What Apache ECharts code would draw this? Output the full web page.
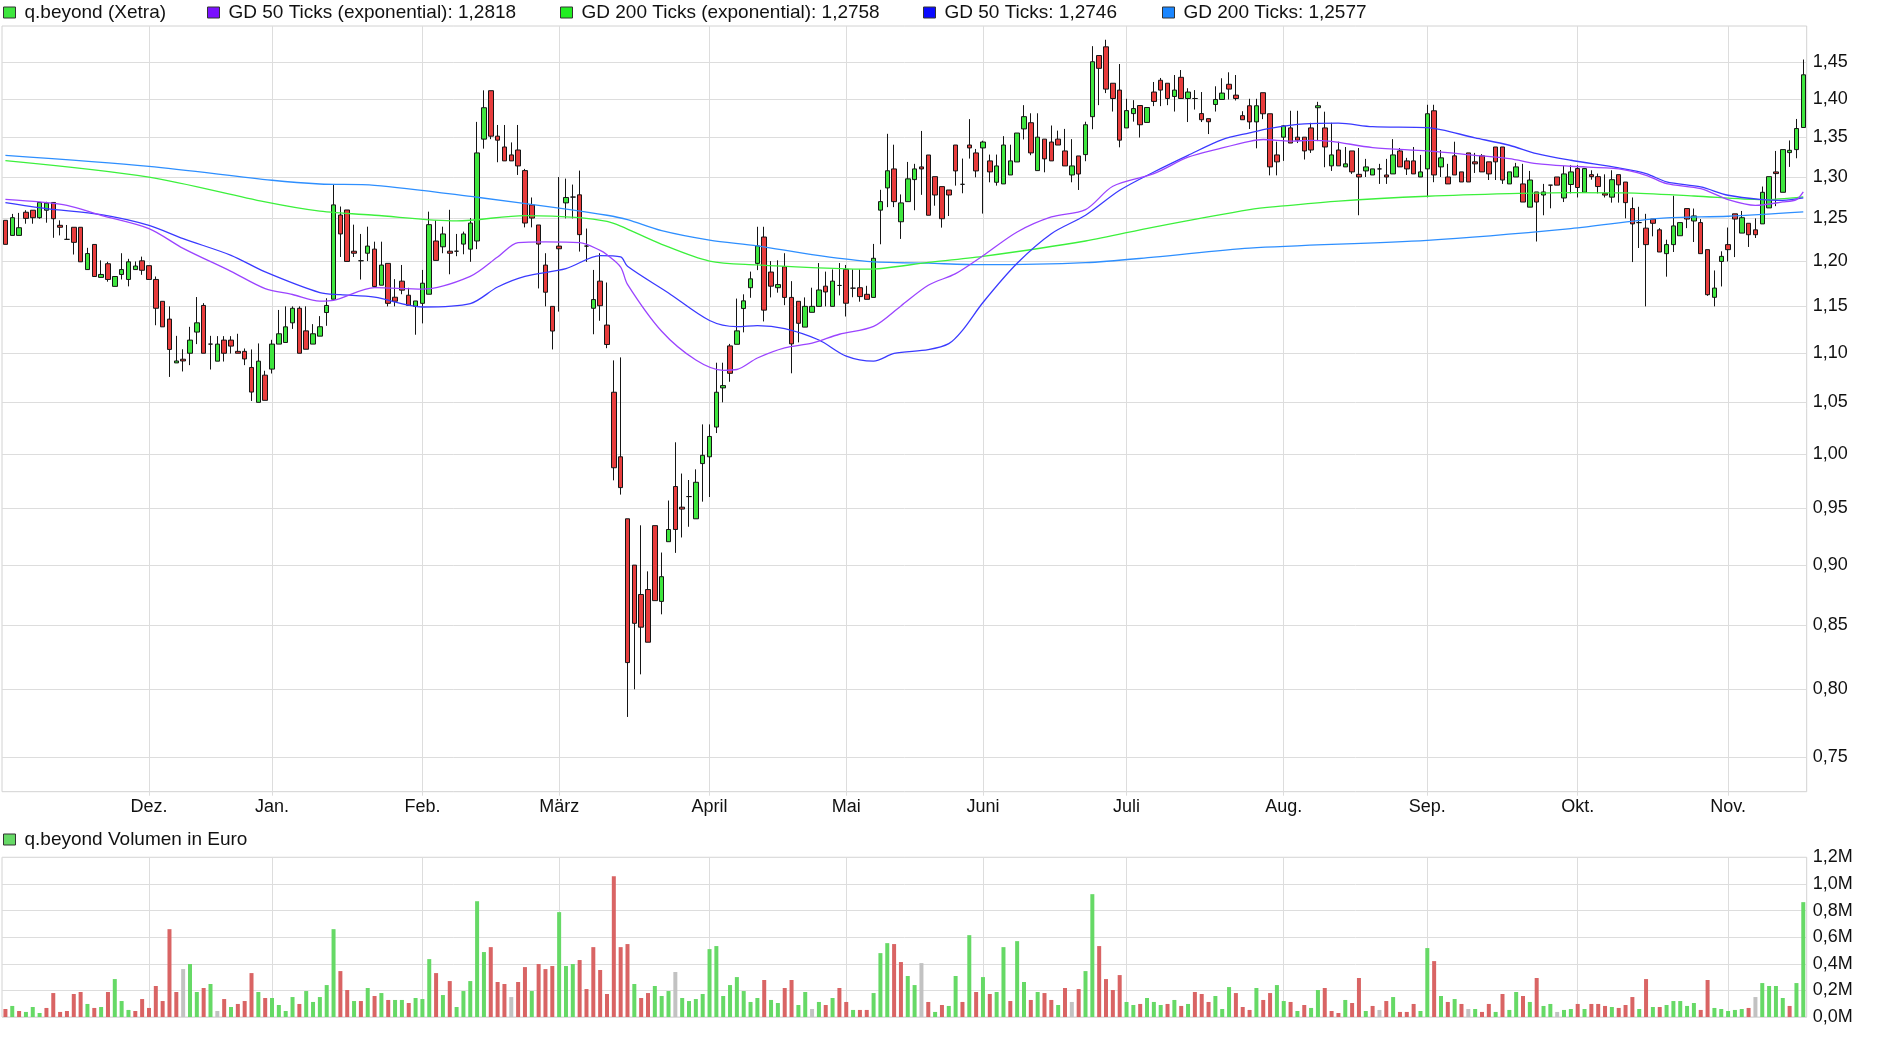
<!DOCTYPE html>
<html><head><meta charset="utf-8">
<script src="https://cdn.jsdelivr.net/npm/echarts@6/dist/echarts.min.js"></script>
<style>html,body{margin:0;padding:0;background:#fff}#c{width:1880px;height:1037px}</style>
</head><body><div id="c"></div>
<script>
// ---- calendar (Xetra trading days) ----
const startDate = '2019-11-01';
const endDate = '2020-11-17';
const holidays = ['2019-12-24','2019-12-25','2019-12-26','2019-12-31','2020-01-01','2020-04-10','2020-04-13','2020-05-01','2020-06-01'];
const monthLabels = ['Jan.','Feb.','März','April','Mai','Juni','Juli','Aug.','Sep.','Okt.','Nov.','Dez.'];

// ---- tick labels ----
const priceTicks = [0.75,0.80,0.85,0.90,0.95,1.00,1.05,1.10,1.15,1.20,1.25,1.30,1.35,1.40,1.45];
const volumeTicks = [0,0.2,0.4,0.6,0.8,1.0,1.2];

// ---- legend names ----
const nameStock = 'q.beyond (Xetra)';
const nameEma50 = 'GD 50 Ticks (exponential): 1,2818';
const nameEma200 = 'GD 200 Ticks (exponential): 1,2758';
const nameSma50 = 'GD 50 Ticks: 1,2746';
const nameSma200 = 'GD 200 Ticks: 1,2577';
const nameVolume = 'q.beyond Volumen in Euro';

// ---- daily candles: [open, close, low, high] ----
const candles = [
[1.2477,1.2196,1.2196,1.2477],[1.2300,1.2508,1.2300,1.2553],[1.2300,1.2390,1.2300,1.2565],[1.2573,1.2500,1.2437,1.2597],
[1.2597,1.2508,1.2437,1.2597],[1.2508,1.2690,1.2496,1.2690],[1.2597,1.2682,1.2449,1.2698],[1.2690,1.2496,1.2272,1.2690],
[1.2418,1.2395,1.2300,1.2477],[1.2254,1.2254,1.2254,1.2422],[1.2395,1.2219,1.2079,1.2395],[1.2395,1.1996,1.1996,1.2395],
[1.1908,1.2090,1.1908,1.2156],[1.2195,1.1830,1.1830,1.2195],[1.1820,1.1853,1.1820,1.2012],[1.1974,1.1797,1.1772,1.1996],
[1.1720,1.1830,1.1720,1.1830],[1.1853,1.1908,1.1797,1.2094],[1.1797,1.1996,1.1720,1.2030],[1.1908,1.1948,1.1908,1.2000],
[1.2007,1.1900,1.1849,1.2055],[1.1952,1.1797,1.1797,1.1952],[1.1797,1.1479,1.1296,1.1830],[1.1555,1.1279,1.1279,1.1555],
[1.1362,1.1040,1.0756,1.1500],[1.0900,1.0920,1.0900,1.1183],[1.0938,1.0920,1.0812,1.1042],[1.1000,1.1138,1.0877,1.1279],
[1.1223,1.1322,1.1096,1.1602],[1.1510,1.1000,1.1000,1.1535],[1.1096,1.1096,1.0832,1.1183],[1.0918,1.1096,1.0918,1.1180],
[1.1138,1.1000,1.0914,1.1180],[1.1138,1.1075,1.0997,1.1180],[1.1020,1.1000,1.1000,1.1205],[1.1020,1.0941,1.0877,1.1050],
[1.0853,1.0603,1.0514,1.1040],[1.0500,1.0918,1.0500,1.1103],[1.0774,1.0520,1.0520,1.0819],[1.0836,1.1096,1.0791,1.1141],
[1.1096,1.1205,1.1096,1.1461],[1.1113,1.1279,1.1113,1.1500],[1.1322,1.1479,1.1257,1.1500],[1.1479,1.1000,1.1000,1.1500],
[1.1236,1.1042,1.1042,1.1500],[1.1096,1.1205,1.1096,1.1308],[1.1180,1.1280,1.1180,1.1394],[1.1433,1.1510,1.1290,1.1589],
[1.1578,1.2661,1.1578,1.2907],[1.2540,1.2317,1.2051,1.2641],[1.2600,1.2000,1.2000,1.2600],[1.2117,1.2094,1.2051,1.2426],
[1.2008,1.2008,1.1796,1.2317],[1.2094,1.2176,1.2004,1.2402],[1.2141,1.1719,1.1719,1.2227],[1.1733,1.1959,1.1733,1.2227],
[1.1978,1.1533,1.1500,1.1978],[1.1600,1.1556,1.1500,1.1800],[1.1778,1.1678,1.1633,1.1960],[1.1622,1.1511,1.1511,1.1704],
[1.1500,1.1559,1.1195,1.1559],[1.1533,1.1755,1.1316,1.1904],[1.1633,1.2426,1.1633,1.2580],[1.2235,1.2012,1.2012,1.2477],
[1.2168,1.2317,1.2094,1.2402],[1.2117,1.2094,1.1855,1.2602],[1.2117,1.2117,1.2060,1.2317],[1.2199,1.2317,1.2082,1.2344],
[1.2141,1.2445,1.1996,1.2504],[1.2235,1.3300,1.2141,1.3697],[1.3475,1.3882,1.3354,1.4113],[1.4108,1.3513,1.3475,1.4108],
[1.3513,1.3462,1.3183,1.3657],[1.3375,1.3200,1.3200,1.3657],[1.3275,1.3200,1.3200,1.3433],[1.3337,1.3137,1.3025,1.3657],
[1.3079,1.2445,1.2394,1.3100],[1.2661,1.2504,1.2394,1.2750],[1.2422,1.2199,1.1697,1.2422],[1.1959,1.1655,1.1500,1.2094],
[1.1500,1.1234,1.1040,1.1500],[1.2176,1.2145,1.1443,1.3000],[1.2685,1.2750,1.2500,1.2980],[1.2755,1.2755,1.2500,1.2907],
[1.2782,1.2309,1.2113,1.3079],[1.2176,1.2176,1.1996,1.2380],[1.1479,1.1574,1.1200,1.1904],[1.1778,1.1507,1.1344,1.2094],
[1.1298,1.1092,1.1053,1.1763],[1.0601,0.9869,0.9752,1.0926],[0.9972,0.9685,0.9621,1.0957],[0.9403,0.8205,0.7793,0.9403],
[0.8999,0.8516,0.8000,0.8999],[0.8752,0.8485,0.8114,0.9345],[0.8793,0.8365,0.8365,0.8946],[0.9342,0.8701,0.8701,0.9342],
[0.8695,0.8901,0.8589,0.9107],[0.9201,0.9308,0.9201,0.9567],[0.9695,0.9308,0.9104,1.0110],[0.9507,0.9490,0.9238,0.9815],
[0.9603,0.9603,0.9332,0.9755],[0.9403,0.9734,0.9403,0.9854],[0.9908,0.9986,0.9557,1.0283],[0.9972,1.0166,0.9599,1.0283],
[1.0257,1.0601,1.0199,1.0902],[1.0645,1.0668,1.0500,1.0902],[1.1077,1.0793,1.0707,1.1098],[1.1094,1.1236,1.1094,1.1585],
[1.1476,1.1560,1.1220,1.1632],[1.1705,1.1804,1.1594,1.1885],[1.1978,1.2178,1.1902,1.2401],[1.2281,1.1459,1.1337,1.2401],
[1.1880,1.1722,1.1598,1.2004],[1.1705,1.1740,1.1650,1.2013],[1.1940,1.1598,1.1513,1.2094],[1.1598,1.1098,1.0793,1.1778],
[1.1555,1.1317,1.1114,1.1555],[1.1276,1.1500,1.1276,1.1598],[1.1435,1.1500,1.1435,1.1705],[1.1500,1.1680,1.1500,1.1982],
[1.1722,1.1658,1.1500,1.1885],[1.1500,1.1778,1.1500,1.1910],[1.1730,1.1730,1.1620,1.1982],[1.1910,1.1534,1.1390,1.1960],
[1.1700,1.1700,1.1600,1.1910],[1.1705,1.1607,1.1551,1.1910],[1.1632,1.1577,1.1577,1.1726],[1.1598,1.2036,1.1598,1.2201],
[1.2598,1.2700,1.2197,1.2843],[1.2866,1.3077,1.2634,1.3543],[1.3100,1.2700,1.2634,1.3404],[1.2460,1.2685,1.2259,1.2787],
[1.2700,1.2977,1.2700,1.3187],[1.2968,1.3100,1.2597,1.3163],[1.3125,1.3100,1.2782,1.3580],[1.3274,1.2537,1.2537,1.3274],
[1.3004,1.2780,1.2651,1.3004],[1.2882,1.2496,1.2391,1.2882],[1.2841,1.2780,1.2528,1.2841],[1.3400,1.3075,1.2894,1.3400],
[1.2910,1.2910,1.2801,1.3229],[1.3400,1.3363,1.3229,1.3733],[1.3300,1.3075,1.2996,1.3350],[1.3363,1.3438,1.2557,1.3455],
[1.3200,1.3063,1.2935,1.3279],[1.2935,1.3137,1.2894,1.3279],[1.2915,1.3400,1.2915,1.3513],[1.3025,1.3200,1.3025,1.3404],
[1.3187,1.3553,1.3187,1.3553],[1.3606,1.3765,1.3471,1.3916],[1.3686,1.3300,1.3271,1.3809],[1.3079,1.3500,1.3079,1.3809],
[1.3475,1.3225,1.3058,1.3475],[1.3438,1.3200,1.3200,1.3650],[1.3475,1.3400,1.3400,1.3584],[1.3325,1.3137,1.3137,1.3606],
[1.3025,1.3137,1.2935,1.3475],[1.3262,1.3037,1.2841,1.3262],[1.3279,1.3660,1.3196,1.3699],[1.3765,1.4500,1.3602,1.4716],
[1.4586,1.4410,1.3916,1.4586],[1.4707,1.4129,1.4076,1.4806],[1.4208,1.4004,1.3832,1.4208],[1.4116,1.3462,1.3371,1.4469],
[1.3619,1.3844,1.3619,1.4000],[1.3805,1.3871,1.3700,1.3982],[1.3911,1.3660,1.3496,1.3911],[1.3690,1.3885,1.3690,1.3885],
[1.4090,1.3965,1.3903,1.4225],[1.4248,1.4116,1.3903,1.4279],[1.4208,1.4004,1.3916,1.4208],[1.4031,1.4116,1.3832,1.4319],
[1.4288,1.4004,1.4004,1.4387],[1.4004,1.4090,1.3695,1.4141],[1.4004,1.4004,1.3858,1.4116],[1.3805,1.3725,1.3695,1.4090],
[1.3739,1.3699,1.3540,1.3739],[1.3925,1.3991,1.3832,1.4167],[1.3991,1.4076,1.3991,1.4275],[1.4194,1.4129,1.3991,1.4356],
[1.4049,1.4004,1.3978,1.4319],[1.3778,1.3725,1.3725,1.3836],[1.3908,1.3697,1.3605,1.4000],[1.3697,1.3908,1.3358,1.4000],
[1.4081,1.3803,1.3733,1.4081],[1.3803,1.3125,1.3020,1.3803],[1.3275,1.3188,1.3020,1.3442],[1.3500,1.3645,1.3200,1.3654],
[1.3619,1.3425,1.3425,1.3842],[1.3500,1.3462,1.3425,1.3842],[1.3500,1.3325,1.3217,1.3500],[1.3619,1.3337,1.3300,1.3685],
[1.3882,1.3908,1.3450,1.3960],[1.3619,1.3375,1.3121,1.3830],[1.3138,1.3275,1.3075,1.3685],[1.3337,1.3138,1.3138,1.3442],
[1.3125,1.3163,1.3125,1.3375],[1.3325,1.3063,1.3038,1.3325],[1.3033,1.3000,1.2537,1.3362],[1.3075,1.3125,1.3000,1.3225],
[1.3025,1.3100,1.3025,1.3100],[1.3100,1.3100,1.2915,1.3163],[1.3025,1.3000,1.2915,1.3225],[1.3038,1.3275,1.3038,1.3475],
[1.3325,1.3125,1.3125,1.3362],[1.3200,1.3100,1.3025,1.3238],[1.3200,1.3038,1.3038,1.3375],[1.3000,1.3063,1.3000,1.3275],
[1.3100,1.3803,1.2752,1.3921],[1.3842,1.3025,1.2936,1.3921],[1.3125,1.3238,1.3000,1.3337],[1.3000,1.2915,1.2915,1.3163],
[1.3263,1.3025,1.3025,1.3442],[1.3063,1.2939,1.2939,1.3063],[1.3300,1.2939,1.2939,1.3300],[1.3188,1.3163,1.3050,1.3300],
[1.3263,1.3063,1.3063,1.3285],[1.3188,1.3038,1.2963,1.3188],[1.3375,1.3188,1.2963,1.3375],[1.3375,1.2963,1.2915,1.3375],
[1.2915,1.3063,1.2915,1.3063],[1.3000,1.3125,1.3000,1.3175],[1.2915,1.2695,1.2695,1.3163],[1.2634,1.2963,1.2634,1.3075],
[1.2817,1.2695,1.2229,1.2817],[1.2780,1.2817,1.2537,1.2915],[1.2900,1.2900,1.2620,1.2900],[1.3000,1.2900,1.2900,1.3000],
[1.2744,1.3038,1.2695,1.3138],[1.2908,1.3063,1.2800,1.3146],[1.3104,1.2871,1.2750,1.3146],[1.2813,1.3104,1.2813,1.3104],
[1.3029,1.3004,1.2967,1.3083],[1.3004,1.2883,1.2800,1.3042],[1.2800,1.2779,1.2750,1.3033],[1.2754,1.2967,1.2688,1.3083],
[1.3029,1.2904,1.2688,1.3029],[1.2938,1.2688,1.2500,1.2938],[1.2617,1.2435,1.1993,1.2750],[1.2450,1.2450,1.2154,1.2638],
[1.2385,1.2193,1.1500,1.2554],[1.2492,1.2442,1.2289,1.2492],[1.2365,1.2108,1.2108,1.2385],[1.2089,1.2193,1.1828,1.2250],
[1.2193,1.2411,1.2108,1.2771],[1.2296,1.2450,1.2296,1.2450],[1.2617,1.2492,1.2385,1.2617],[1.2469,1.2529,1.2223,1.2617],
[1.2450,1.2089,1.2089,1.2492],[1.2135,1.1628,1.1615,1.2135],[1.1599,1.1701,1.1500,1.1898],[1.2000,1.2058,1.1719,1.2116],
[1.2193,1.2135,1.2000,1.2392],[1.2554,1.2492,1.2050,1.2554],[1.2327,1.2508,1.2327,1.2588],[1.2442,1.2308,1.2166,1.2442],
[1.2365,1.2308,1.2270,1.2500],[1.2435,1.2813,1.2435,1.2883],[1.2625,1.3004,1.2625,1.3004],[1.3063,1.3042,1.2646,1.3325],
[1.2813,1.3342,1.2813,1.3342],[1.3304,1.3333,1.3125,1.3458],[1.3342,1.3611,1.3233,1.3735],[1.3624,1.4322,1.3624,1.4531]
];

// ---- daily volume, million euro ----
const volumes = [
0.060,0.083,0.045,0.038,0.075,0.030,0.068,0.180,0.038,0.045,0.173,0.188,0.098,0.068,0.075,0.188,0.285,0.120,0.053,0.045,
0.135,0.068,0.233,0.120,0.660,0.188,0.360,0.398,0.188,0.218,0.248,0.045,0.135,0.075,0.098,0.120,0.330,0.188,0.143,0.143,
0.090,0.045,0.150,0.098,0.195,0.113,0.150,0.240,0.660,0.345,0.203,0.120,0.120,0.218,0.158,0.180,0.128,0.128,0.128,0.105,
0.143,0.135,0.435,0.330,0.165,0.270,0.075,0.195,0.270,0.870,0.488,0.525,0.263,0.248,0.150,0.263,0.375,0.195,0.398,0.360,
0.383,0.788,0.383,0.398,0.428,0.210,0.525,0.353,0.173,1.058,0.525,0.548,0.248,0.143,0.180,0.233,0.158,0.195,0.338,0.143,
0.120,0.135,0.173,0.510,0.533,0.158,0.240,0.300,0.195,0.113,0.143,0.278,0.128,0.105,0.218,0.278,0.090,0.188,0.060,0.113,
0.090,0.143,0.218,0.113,0.053,0.053,0.053,0.180,0.480,0.555,0.548,0.413,0.308,0.240,0.405,0.113,0.038,0.090,0.083,0.308,
0.113,0.615,0.188,0.300,0.173,0.188,0.525,0.120,0.570,0.263,0.128,0.188,0.180,0.128,0.090,0.218,0.113,0.210,0.345,0.923,
0.533,0.285,0.203,0.315,0.113,0.090,0.098,0.143,0.113,0.090,0.098,0.128,0.083,0.098,0.188,0.173,0.113,0.158,0.060,0.225,
0.180,0.075,0.053,0.218,0.128,0.180,0.240,0.120,0.113,0.045,0.090,0.068,0.203,0.218,0.045,0.030,0.128,0.105,0.293,0.045,
0.083,0.053,0.120,0.150,0.038,0.038,0.098,0.045,0.518,0.420,0.158,0.113,0.135,0.098,0.060,0.060,0.038,0.098,0.038,0.173,
0.053,0.188,0.158,0.113,0.293,0.083,0.098,0.038,0.053,0.060,0.098,0.060,0.098,0.098,0.083,0.075,0.068,0.090,0.150,0.060,
0.285,0.075,0.075,0.090,0.120,0.120,0.083,0.105,0.053,0.278,0.068,0.060,0.045,0.053,0.060,0.068,0.150,0.255,0.233,0.233,
0.143,0.083,0.255,0.863
];

// ---- moving averages: [dayIndex, value] ----
const ema50 = [[0,1.2728],[5,1.2696],[9,1.2656],[14,1.2537],[21,1.2380],[26,1.2150],[33,1.1888],[38,1.1695],[42,1.1630],[46,1.1558],
[48,1.1566],[54,1.1706],[61,1.1690],[68,1.1832],[72,1.2051],[75,1.2217],[79,1.2224],[84,1.2217],[87,1.2127],[88,1.2077],[90,1.1937],
[91,1.1743],[96,1.1232],[101,1.0930],[105,1.0824],[107,1.0832],[110,1.0951],[114,1.1057],[118,1.1106],[122,1.1200],[127,1.1284],
[131,1.1505],[135,1.1732],[139,1.1863],[143,1.2066],[148,1.2340],[153,1.2517],[158,1.2605],[162,1.2886],[168,1.3041],[173,1.3246],
[178,1.3363],[182,1.3447],[184,1.3470],[188,1.3449],[191,1.3460],[194,1.3447],[200,1.3368],[208,1.3325],[215,1.3270],[220,1.3229],
[224,1.3166],[229,1.3133],[236,1.3100],[240,1.3021],[243,1.2918],[248,1.2857],[252,1.2725],[256,1.2656],[260,1.2696],[262,1.2725],[263,1.2818]];
const ema200 = [[0,1.3204],[21,1.2999],[38,1.2696],[46,1.2585],[54,1.2537],[66,1.2470],[76,1.2533],[84,1.2510],[88,1.2464],[90,1.2409],
[96,1.2197],[103,1.2004],[110,1.1960],[118,1.1930],[126,1.1912],[135,1.1989],[143,1.2058],[158,1.2235],[168,1.2398],[182,1.2605],
[187,1.2648],[195,1.2707],[208,1.2765],[220,1.2797],[229,1.2809],[237,1.2805],[247,1.2768],[257,1.2724],[263,1.2758]];
const sma50 = [[0,1.2688],[6,1.2616],[14,1.2545],[21,1.2418],[26,1.2262],[33,1.2070],[38,1.1881],[46,1.1650],[49,1.1628],[54,1.1600],
[61,1.1493],[68,1.1530],[72,1.1713],[76,1.1832],[82,1.1919],[87,1.2067],[90,1.2051],[91,1.1945],[97,1.1647],[103,1.1347],[107,1.1281],
[110,1.1293],[114,1.1260],[119,1.1139],[123,1.0970],[127,1.0918],[130,1.0998],[135,1.1038],[138,1.1101],[140,1.1242],[143,1.1542],
[148,1.1979],[153,1.2320],[158,1.2537],[163,1.2837],[168,1.3062],[173,1.3270],[178,1.3469],[182,1.3556],[185,1.3614],[190,1.3671],
[195,1.3680],[200,1.3635],[208,1.3622],[215,1.3491],[220,1.3397],[224,1.3291],[229,1.3208],[236,1.3112],[240,1.3042],[243,1.2940],
[248,1.2878],[252,1.2777],[257,1.2724],[260,1.2716],[263,1.2746]];
const sma200 = [[0,1.3270],[21,1.3132],[39,1.2960],[46,1.2914],[54,1.2898],[69,1.2753],[81,1.2622],[88,1.2537],[91,1.2485],[96,1.2355],
[103,1.2245],[110,1.2179],[118,1.2077],[126,1.2002],[135,1.1980],[143,1.1963],[158,1.1986],[168,1.2049],[182,1.2152],[208,1.2243],
[229,1.2380],[242,1.2500],[252,1.2525],[263,1.2577]];

// ---- build categories ----
function tradingDays(){
  const out=[]; const d=new Date(startDate+'T00:00:00Z'); const end=new Date(endDate+'T00:00:00Z');
  while(d<=end){ const wd=d.getUTCDay(); const s=d.toISOString().slice(0,10);
    if(wd!==0&&wd!==6&&holidays.indexOf(s)<0) out.push(s);
    d.setUTCDate(d.getUTCDate()+1);} return out;
}
const dates = tradingDays();
const isMonthStart = i => i>0 && dates[i] && dates[i].slice(5,7)!==dates[i-1].slice(5,7);
const monthOf = s => monthLabels[parseInt(s.slice(5,7),10)-1];

const FONT = "'Liberation Sans', Arial, Helvetica, sans-serif";
const GRID = '#dddddd';
const TXT = '#111111';

const volData = volumes.map((v,i)=>{
  const c=candles[i][1], p = i>0 ? candles[i-1][1] : candles[i][0];
  const col = c>p ? '#66d966' : (c<p ? '#d96464' : '#c2c2c2');
  return {value:v, itemStyle:{color:col}};
});

const legendBase = {icon:'rect', itemWidth:12, itemHeight:11, selectedMode:false, padding:0,
  textStyle:{fontSize:19, color:TXT, fontFamily:FONT, padding:[0,0,0,4]}};
function leg(left, top, name, color){
  return Object.assign({}, legendBase, {left, top, data:[{name, itemStyle:{color, borderColor:'#333', borderWidth:1}}]});
}

const xBase = {type:'category', data:dates, boundaryGap:true};
const option = {
  animation:false, backgroundColor:'#ffffff', textStyle:{fontFamily:FONT},
  legend:[
    leg(3,3,nameStock,'#3ee63e'), leg(207,3,nameEma50,'#7a10ff'), leg(560,3,nameEma200,'#22ee22'),
    leg(923,3,nameSma50,'#0a0aff'), leg(1162,3,nameSma200,'#1a86ff'), leg(3,830,nameVolume,'#66d966')
  ],
  grid:[
    {left:2, right:73.3, top:26, bottom:245.3, show:true, borderColor:'#d2d2d2', borderWidth:1},
    {left:2, right:73.3, top:857.3, bottom:20, show:true, borderColor:'#d2d2d2', borderWidth:1}
  ],
  xAxis:[
    Object.assign({}, xBase, {gridIndex:0,
      axisLine:{show:false},
      axisTick:{show:true, alignWithLabel:true, interval:(i)=>isMonthStart(i), length:4, lineStyle:{color:GRID}},
      axisLabel:{interval:(i)=>isMonthStart(i), formatter:(v)=>monthOf(v), fontSize:18, color:TXT, margin:6, fontFamily:FONT},
      splitLine:{show:true, alignWithLabel:true, interval:(i)=>isMonthStart(i), lineStyle:{color:GRID}}}),
    Object.assign({}, xBase, {gridIndex:1,
      axisLine:{show:false}, axisTick:{show:false}, axisLabel:{show:false},
      splitLine:{show:true, alignWithLabel:true, interval:(i)=>isMonthStart(i), lineStyle:{color:GRID}}})
  ],
  yAxis:[
    {type:'log', logBase:10, gridIndex:0, position:'right', min:0.726, max:1.5, scale:true,
      axisLine:{show:false}, axisTick:{show:false, customValues:priceTicks},
      axisLabel:{customValues:priceTicks, formatter:(v)=>Number(v).toFixed(2).replace('.',','), fontSize:18, color:TXT, margin:6, fontFamily:FONT},
      splitLine:{show:true, lineStyle:{color:GRID}}},
    {type:'value', gridIndex:1, position:'right', min:0, max:1.2, interval:0.2,
      axisLine:{show:false}, axisTick:{show:false},
      axisLabel:{formatter:(v)=>Number(v).toFixed(1).replace('.',',')+'M', fontSize:18, color:TXT, margin:6, fontFamily:FONT},
      splitLine:{show:true, lineStyle:{color:GRID}}}
  ],
  series:[
    {name:nameStock, type:'candlestick', xAxisIndex:0, yAxisIndex:0, data:candles, barWidth:5,
      itemStyle:{color:'#3ee63e', color0:'#e83c3c', borderColor:'#151515', borderColor0:'#151515', borderColorDoji:'#151515', borderWidth:1}},
    {name:nameSma200, type:'line', xAxisIndex:0, yAxisIndex:0, data:sma200, showSymbol:false, smooth:0.3, lineStyle:{color:'#2e8fff', width:1.3}, itemStyle:{color:'#2e8fff'}},
    {name:nameEma200, type:'line', xAxisIndex:0, yAxisIndex:0, data:ema200, showSymbol:false, smooth:0.3, lineStyle:{color:'#3cf03c', width:1.3}, itemStyle:{color:'#3cf03c'}},
    {name:nameSma50, type:'line', xAxisIndex:0, yAxisIndex:0, data:sma50, showSymbol:false, smooth:0.3, lineStyle:{color:'#3a3aff', width:1.3}, itemStyle:{color:'#3a3aff'}},
    {name:nameEma50, type:'line', xAxisIndex:0, yAxisIndex:0, data:ema50, showSymbol:false, smooth:0.3, lineStyle:{color:'#9b44ff', width:1.3}, itemStyle:{color:'#9b44ff'}},
    {name:nameVolume, type:'bar', xAxisIndex:1, yAxisIndex:1, data:volData, barWidth:4}
  ]
};
const chart = echarts.init(document.getElementById('c'), null, {renderer:'canvas'});
chart.setOption(option);
</script></body></html>
